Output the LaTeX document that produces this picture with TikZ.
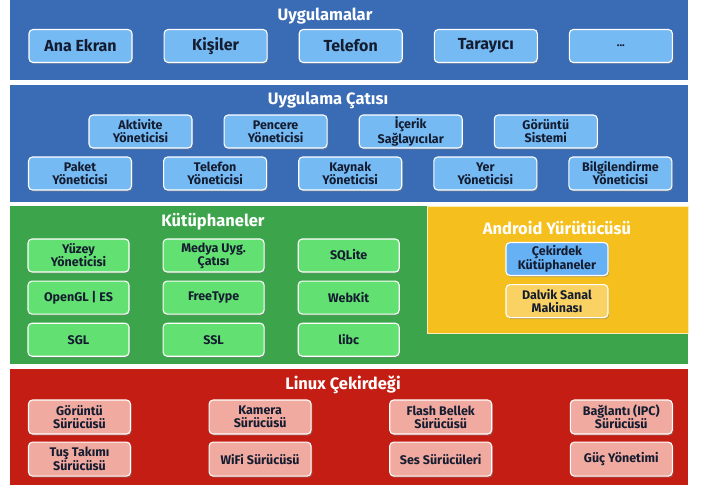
\documentclass[tikz,border=0pt]{standalone}
\usepackage{fontspec}
\setmainfont{Fira Sans}
\usepackage{xcolor}
\usepackage{tikz}
\usetikzlibrary{positioning, shadows}

\definecolor{layerblue}{HTML}{3A6BB5}
\definecolor{cellblue}{HTML}{76BAF4}
\definecolor{layergreen}{HTML}{3CA54B}
\definecolor{cellgreen}{HTML}{62E071}
\definecolor{layeryellow}{HTML}{F5C01E}
\definecolor{corecell}{HTML}{66B0F4}
\definecolor{dalvikcell}{HTML}{FAD264}
\definecolor{layerred}{HTML}{C41E14}
\definecolor{cellred}{HTML}{F0AAA0}
\definecolor{celltext}{HTML}{141C30}

\begin{document}
\begin{tikzpicture}[
    x=1pt, y=-1pt,
    node distance=8pt and 31pt,
    cell/.style={draw=white, line width=1.1pt, rectangle, rounded corners=4pt, minimum width=103pt, minimum height=33pt, inner sep=1pt, align=center, text=celltext, font=\bfseries\fontsize{12.5}{13}\selectfont, drop shadow={shadow xshift=1.2pt, shadow yshift=-1.6pt, opacity=0.45}},
    app/.style={cell, fill=cellblue, font=\bfseries\fontsize{16}{18}\selectfont},
    fw/.style={cell, fill=cellblue},
    lib/.style={cell, fill=cellgreen, minimum width=101pt},
    kern/.style={cell, fill=cellred, minimum width=102pt, minimum height=34pt},
    layer/.style={text=white, font=\bfseries\fontsize{16.5}{20}\selectfont},
]
    \useasboundingbox (0,0) rectangle (705,488);
    \fill[layerblue]  (10,0)   rectangle (688,80);
    \fill[layerblue]  (10,85)  rectangle (688,202);
    \fill[layergreen] (10,206) rectangle (688,364);
    \fill[layerred]   (10,369) rectangle (688,485);
    \filldraw[fill=layeryellow, draw=white!70!layeryellow, line width=1pt] (427,206) rectangle (688,333);

    \node[layer] (apps) at (325,16) {Uygulamalar};
    \node[app] (home) at (80.5,46) {Ana Ekran};
    \node[app, right=of home]     (contacts) {Kişiler};
    \node[app, right=of contacts] (phone)    {Telefon};
    \node[app, right=of phone]    (browser)  {Tarayıcı};
    \node[app, right=of browser]  (more)     {\fontsize{11}{12}\selectfont ...};

    \node[layer] (frame) at (328,100) {Uygulama Çatısı};
    \node[fw] (activity) at (140.5,131.5) {Aktivite\\Yöneticisi};
    \node[fw, right=of activity]  (window)    {Pencere\\Yöneticisi};
    \node[fw, right=of window]    (content)   {İçerik\\Sağlayıcılar};
    \node[fw, right=of content]   (view)      {Görüntü\\Sistemi};
    \node[fw] (package) at (80,173.5) {Paket\\Yöneticisi};
    \node[fw, right=of package]   (telephony) {Telefon\\Yöneticisi};
    \node[fw, right=of telephony] (resource)  {Kaynak\\Yöneticisi};
    \node[fw, right=of resource]  (location)  {Yer\\Yöneticisi};
    \node[fw, right=of location]  (notify)    {Bilgilendirme\\Yöneticisi};

    \node[layer] (libs) at (213,222) {Kütüphaneler};
    \node[lib] (surface) at (78.5,255.5) {Yüzey\\Yöneticisi};
    \node[lib, right=33pt of surface] (media)    {Medya Uyg.\\Çatısı};
    \node[lib, right=33pt of media]   (sqlite)   {SQLite};
    \node[lib, below=of surface]      (opengl)   {OpenGL | ES};
    \node[lib, below=of media]        (freetype) {FreeType};
    \node[lib, below=of sqlite]       (webkit)   {WebKit};
    \node[lib, below=of opengl]       (sgl)      {SGL};
    \node[lib, below=of freetype]     (ssl)      {SSL};
    \node[lib, below=of webkit]       (libc)     {libc};

    \node[layer] (runtime) at (557,228) {Android Yürütücüsü};
    \node[cell, fill=corecell, minimum width=102pt] (corelib) at (557,259) {Çekirdek\\Kütüphaneler};
    \node[cell, fill=dalvikcell, minimum width=102pt, below=of corelib] (dalvik) {Dalvik Sanal\\Makinası};

    \node[layer] (linux) at (343,385) {Linux Çekirdeği};
    \node[kern] (display) at (79.5,417) {Görüntü\\Sürücüsü};
    \node[kern, right=77.5pt of display] (camera) {Kamera\\Sürücüsü};
    \node[kern, right=77.5pt of camera]  (flash)  {Flash Bellek\\Sürücüsü};
    \node[kern, right=77.5pt of flash]   (ipc)    {Bağlantı (IPC)\\Sürücüsü};
    \node[kern, below=7pt of display]    (keypad) {Tuş Takımı\\Sürücüsü};
    \node[kern, below=7pt of camera]     (wifi)   {WiFi Sürücüsü};
    \node[kern, below=7pt of flash]      (audio)  {Ses Sürücüleri};
    \node[kern, below=7pt of ipc]        (power)  {Güç Yönetimi};
\end{tikzpicture}
\end{document}
